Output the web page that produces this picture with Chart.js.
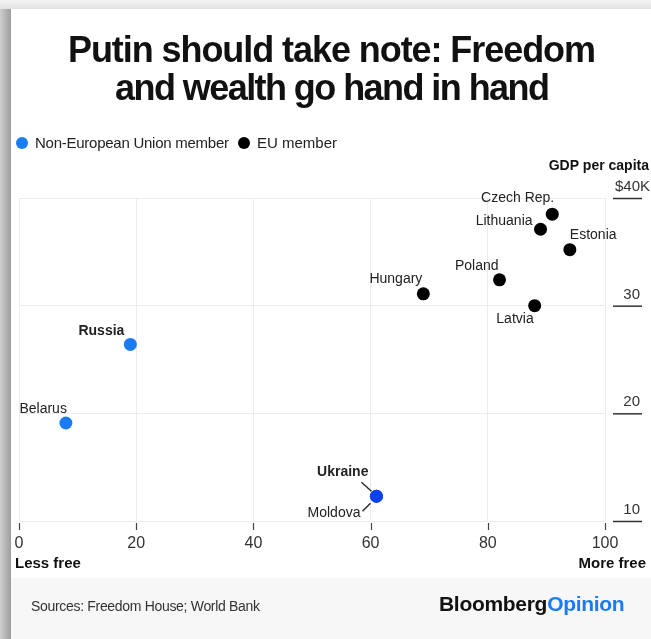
<!DOCTYPE html>
<html>
<head>
<meta charset="utf-8">
<script src="https://cdn.jsdelivr.net/npm/chart.js@4/dist/chart.umd.min.js"></script>
<style>
  html, body { margin: 0; padding: 0; background: #fff; }
  canvas { display: block; }
</style>
</head>
<body>
<canvas id="myChart" width="651" height="639"></canvas>
<script>
// Freedom House score (x) against GDP per capita in $K (y)
const nonEuNames = ['Russia', 'Belarus', 'Ukraine', 'Moldova'];
const nonEuFreedom = [19, 8, 61, 61];
const nonEuGdp = [26.4, 19.1, 12.3, 12.3];

const euNames = ['Czech Rep.', 'Lithuania', 'Estonia', 'Poland', 'Hungary', 'Latvia'];
const euFreedom = [91, 89, 94, 82, 69, 88];
const euGdp = [38.5, 37.1, 35.2, 32.4, 31.1, 30.0];

const freedomTicks = [0, 20, 40, 60, 80, 100];
const gdpTicks = [10, 20, 30, 40];
const gdpTickLabels = ['10', '20', '30', '$40K'];

const titleLines = ['Putin should take note: Freedom', 'and wealth go hand in hand'];

const BLUE = '#1a7cf2';
const DARK_BLUE = '#0c40f2';
const FONT = "'Liberation Sans', Arial, sans-serif";

// where each country name sits relative to its dot
const labelSpots = {
  'Russia':     { dx: -6,  dy: -13, align: 'right', bold: true },
  'Belarus':    { dx: 1,   dy: -14, align: 'right' },
  'Ukraine':    { dx: -8,  dy: -24, align: 'right', bold: true, leader: [-15, -14, -5, -5] },
  'Moldova':    { dx: -16, dy: 17,  align: 'right', leader: [-14, 15, -6, 7] },
  'Czech Rep.': { dx: 2,   dy: -16, align: 'right' },
  'Lithuania':  { dx: -8,  dy: -8,  align: 'right' },
  'Estonia':    { dx: 0,   dy: -15, align: 'left' },
  'Poland':     { dx: -1,  dy: -14, align: 'right' },
  'Hungary':    { dx: -1,  dy: -15, align: 'right' },
  'Latvia':     { dx: -1,  dy: 13,  align: 'right' }
};

function toPoints(xs, ys) {
  return xs.map((x, i) => ({ x: x, y: ys[i] }));
}

// draw text squeezed/stretched to a given width with letter spacing
function fitText(ctx, text, x, y, width) {
  ctx.letterSpacing = '0px';
  const natural = ctx.measureText(text).width;
  const ls = (width - natural) / (text.length - 1);
  ctx.letterSpacing = ls + 'px';
  ctx.textAlign = 'left';
  ctx.fillText(text, x, y);
  ctx.letterSpacing = '0px';
}

// grey page edge, white card and the footer strip
const pageBackground = {
  id: 'pageBackground',
  beforeDraw(chart) {
    const ctx = chart.ctx;
    const w = chart.width, h = chart.height;
    ctx.save();
    ctx.fillStyle = '#ffffff';
    ctx.fillRect(11, 9, w - 11, h - 9);
    ctx.fillStyle = '#f7f7f7';
    ctx.fillRect(11, 578, w - 11, h - 578);
    ctx.restore();
  },
  afterDraw(chart) {
    const ctx = chart.ctx;
    const w = chart.width, h = chart.height;
    ctx.save();
    let g = ctx.createLinearGradient(0, 0, 0, 9);
    g.addColorStop(0, '#f4f4f4');
    g.addColorStop(1, '#e2e2e2');
    ctx.fillStyle = g;
    ctx.fillRect(0, 0, w, 9);
    g = ctx.createLinearGradient(0, 0, 11, 0);
    g.addColorStop(0, '#cfcfcf');
    g.addColorStop(1, '#9d9d9d');
    ctx.fillStyle = g;
    ctx.fillRect(0, 9, 11, h - 9);
    ctx.restore();
  }
};

const decorations = {
  id: 'decorations',
  afterDraw(chart) {
    const ctx = chart.ctx;
    const xs = chart.scales.x, ys = chart.scales.y;
    const area = chart.chartArea;
    ctx.save();

    // headline
    ctx.fillStyle = '#111';
    ctx.font = 'bold 36px ' + FONT;
    ctx.textBaseline = 'alphabetic';
    fitText(ctx, titleLines[0], 68, 62, 528);
    fitText(ctx, titleLines[1], 115, 100, 435);
    ctx.textBaseline = 'middle';

    // legend
    ctx.fillStyle = BLUE;
    ctx.beginPath(); ctx.arc(22, 143, 6, 0, Math.PI * 2); ctx.fill();
    ctx.fillStyle = '#000';
    ctx.beginPath(); ctx.arc(244, 143, 6, 0, Math.PI * 2); ctx.fill();
    ctx.fillStyle = '#222';
    ctx.font = '15px ' + FONT;
    fitText(ctx, 'Non-European Union member', 35, 144, 194);
    ctx.fillText('EU member', 257, 144);

    // right-hand GDP axis: labels sitting on short rules
    ctx.font = 'bold 14px ' + FONT;
    ctx.textAlign = 'right';
    ctx.fillStyle = '#111';
    ctx.fillText('GDP per capita', 649, 166);
    ctx.font = '15px ' + FONT;
    ctx.fillStyle = '#333';
    ctx.strokeStyle = '#333';
    ctx.lineWidth = 1.5;
    gdpTicks.forEach((v, i) => {
      const py = ys.getPixelForValue(v);
      const label = gdpTickLabels[i];
      ctx.fillText(label, label.length > 2 ? 650 : 640, py - 11);
      ctx.beginPath();
      ctx.moveTo(613, py + 0.5);
      ctx.lineTo(642, py + 0.5);
      ctx.stroke();
    });

    // x tick marks below the axis
    ctx.strokeStyle = '#444';
    ctx.lineWidth = 1.2;
    freedomTicks.forEach(v => {
      const px = Math.round(xs.getPixelForValue(v)) + 0.5;
      ctx.beginPath();
      ctx.moveTo(px, area.bottom + 2);
      ctx.lineTo(px, area.bottom + 9);
      ctx.stroke();
    });

    ctx.font = 'bold 15px ' + FONT;
    ctx.fillStyle = '#111';
    ctx.textAlign = 'left';
    ctx.fillText('Less free', 15, 564);
    ctx.textAlign = 'right';
    ctx.fillText('More free', 646, 564);

    // country names
    chart.data.datasets.forEach((ds, di) => {
      const meta = chart.getDatasetMeta(di);
      ds.names.forEach((name, i) => {
        const spot = labelSpots[name];
        const pt = meta.data[i];
        ctx.font = (spot.bold ? 'bold ' : '') + '14px ' + FONT;
        ctx.fillStyle = '#222';
        ctx.textAlign = spot.align;
        ctx.fillText(name, pt.x + spot.dx, pt.y + spot.dy);
        if (spot.leader) {
          const l = spot.leader;
          ctx.strokeStyle = '#222';
          ctx.lineWidth = 1.3;
          ctx.beginPath();
          ctx.moveTo(pt.x + l[0], pt.y + l[1]);
          ctx.lineTo(pt.x + l[2], pt.y + l[3]);
          ctx.stroke();
        }
      });
    });

    // footer
    ctx.font = '14px ' + FONT;
    ctx.fillStyle = '#333';
    fitText(ctx, 'Sources: Freedom House; World Bank', 31, 607, 229);
    ctx.font = 'bold 21px ' + FONT;
    ctx.letterSpacing = '-0.3px';
    ctx.textAlign = 'left';
    ctx.fillStyle = '#111';
    ctx.fillText('Bloomberg', 439, 605);
    const bw = ctx.measureText('Bloomberg').width;
    ctx.fillStyle = BLUE;
    ctx.fillText('Opinion', 439 + bw, 605);
    ctx.restore();
  }
};

const canvas = document.getElementById('myChart');
const myChart = new Chart(canvas, {
  type: 'scatter',
  data: {
    datasets: [
      {
        label: 'Non-European Union member',
        names: nonEuNames,
        data: toPoints(nonEuFreedom, nonEuGdp),
        backgroundColor: [BLUE, BLUE, DARK_BLUE, DARK_BLUE],
        borderWidth: 0,
        pointRadius: 6.5,
        pointHoverRadius: 6.5
      },
      {
        label: 'EU member',
        names: euNames,
        data: toPoints(euFreedom, euGdp),
        backgroundColor: '#000',
        borderWidth: 0,
        pointRadius: 6.5,
        pointHoverRadius: 6.5
      }
    ]
  },
  options: {
    responsive: false,
    animation: false,
    events: [],
    layout: { padding: { left: 19, right: 46, top: 198, bottom: 78 } },
    plugins: {
      legend: { display: false },
      tooltip: { enabled: false }
    },
    scales: {
      x: {
        type: 'linear',
        min: 0,
        max: 100,
        afterBuildTicks(scale) { scale.ticks = freedomTicks.map(v => ({ value: v })); },
        afterFit(scale) { scale.height = 40; },
        grid: { color: '#ececec', lineWidth: 1, drawTicks: false },
        border: { display: false },
        ticks: {
          padding: 13,
          color: '#333',
          font: { family: FONT, size: 16 }
        }
      },
      y: {
        type: 'linear',
        min: 10,
        max: 40,
        afterBuildTicks(scale) { scale.ticks = gdpTicks.map(v => ({ value: v })); },
        afterFit(scale) { scale.width = 0; },
        grid: { color: '#ececec', lineWidth: 1, drawTicks: false },
        border: { display: false },
        ticks: { display: false }
      }
    }
  },
  plugins: [pageBackground, decorations]
});
</script>
</body>
</html>
